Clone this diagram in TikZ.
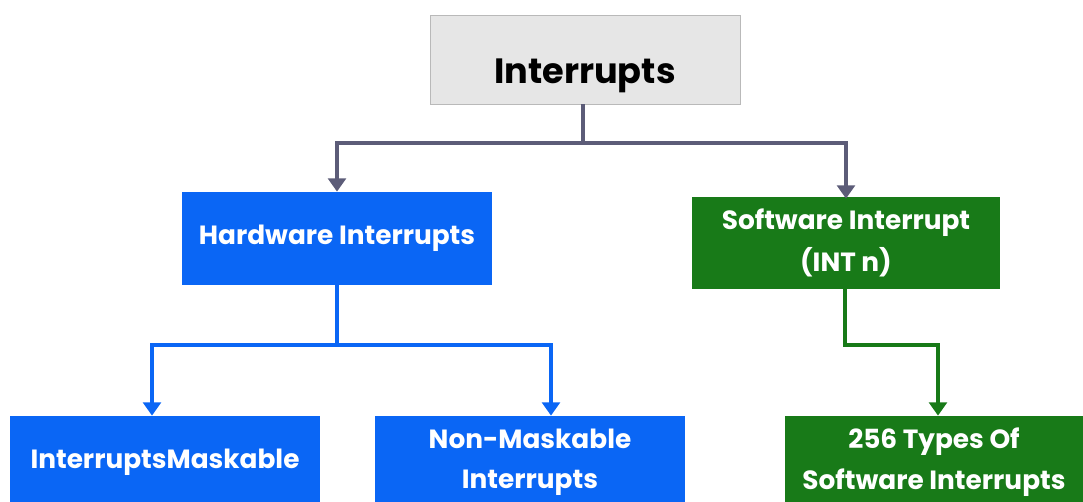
\documentclass[tikz,border=0pt]{standalone}
\usepackage{fontspec}
\setmainfont{Poppins}
\usepackage{tikz}
\usetikzlibrary{arrows.meta,positioning,calc}

\definecolor{rootgray}{RGB}{230,230,230}
\definecolor{rootedge}{RGB}{185,185,185}
\definecolor{linkgray}{RGB}{92,92,120}
\definecolor{hwblue}{RGB}{10,102,245}
\definecolor{swgreen}{RGB}{24,122,24}

\begin{document}
\begin{tikzpicture}[
                x=0.02cm, y=-0.02cm,
                top/.style={draw=rootedge, fill=rootgray, minimum width=6.2cm, minimum height=1.78cm, text height=0.98cm, text depth=0pt, font=\fontsize{20}{24}\selectfont\bfseries},
                hw/.style={fill=hwblue, text=white, minimum width=6.2cm, align=center, font=\fontsize{15}{23}\selectfont\bfseries},
                sw/.style={fill=swgreen, text=white, align=center, font=\fontsize{15}{23.5}\selectfont\bfseries},
                link/.style={line width=2.8pt, draw=linkgray, -{Triangle[length=7.5pt,width=10pt]}},
                hlink/.style={line width=2.3pt, draw=hwblue, -{Triangle[length=7.5pt,width=10pt]}},
                slink/.style={line width=2.3pt, draw=swgreen, -{Triangle[length=7.5pt,width=10pt]}}
            ]

% frame
                \useasboundingbox (0,0) rectangle (1083,502);

% boxes
                \node[top] (intr) at (585,59.5) {Interrupts};

                \node[hw, minimum height=1.86cm] (hard) at (337,238.5) {Hardware Interrupts};
                \node[sw, minimum width=6.16cm, minimum height=1.84cm] (soft) at (846,243) {Software Interrupt\\(INT n)};

                \node[hw, minimum height=1.84cm] (mask) at (165,462) {InterruptsMaskable};
                \node[hw, minimum height=1.84cm] (nonmask) at (530,462) {Non-Maskable\\Interrupts};
                \node[sw, minimum width=5.96cm, minimum height=1.84cm] (types) at (934,462) {256 Types Of\\Software Interrupts};

% split points
                \coordinate (split) at (583,143);
                \coordinate (hsplit) at (337,345);
                \coordinate (sbend) at (845,345);

% links
                \draw[link] (intr.south -| split) -- (split) -| (hard.north);
                \draw[link] (split) -| ($(soft.north)+(0,2)$);

                \draw[hlink] (hard.south) -- (hsplit) -| ($(mask.north)+(-13,0)$);
                \draw[hlink] (hsplit) -| ($(nonmask.north)+(21,0)$);

                \draw[slink] (soft.south -| sbend) -- (sbend) -| ($(types.north)+(4,0)$);

            \end{tikzpicture}
\end{document}
